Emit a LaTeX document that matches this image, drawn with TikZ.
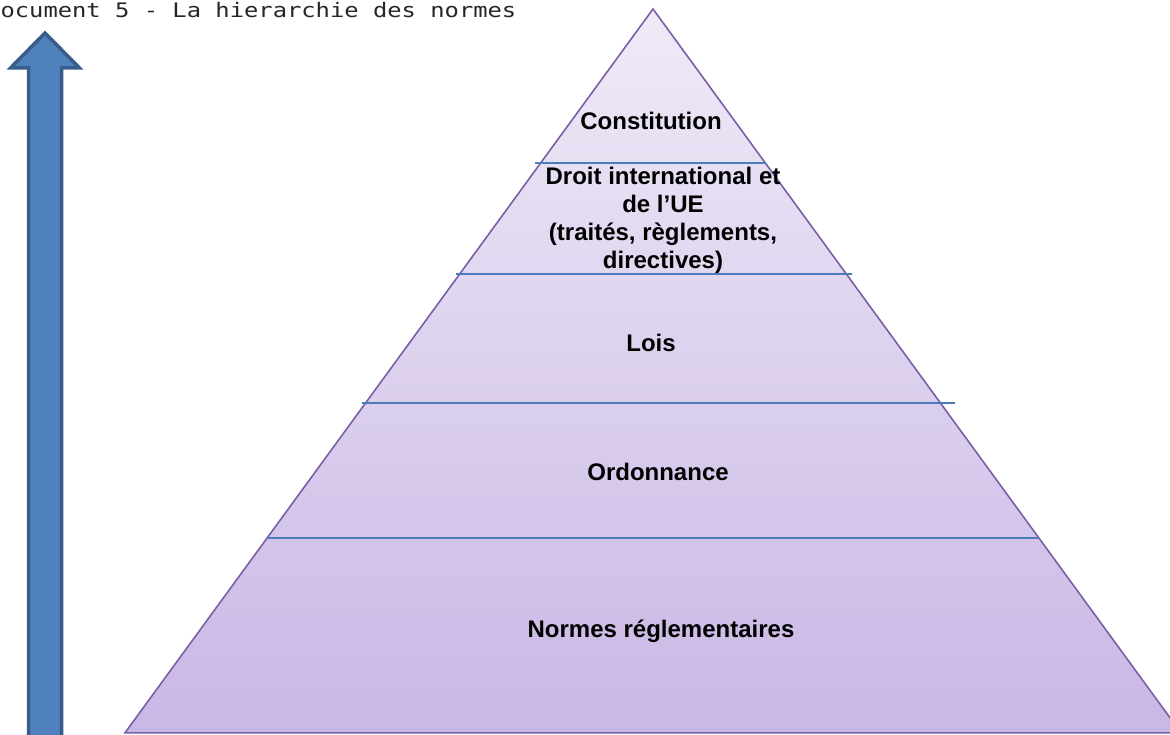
\documentclass[tikz,border=0pt]{standalone}
\usepackage{fontspec}
\usepackage{graphicx}
\setmainfont{Liberation Sans}
\newfontfamily\titlefont{DejaVu Sans Mono}
\definecolor{pyrtop}{HTML}{EFEAF7}
\definecolor{pyrbot}{HTML}{C9B7E5}
\definecolor{pyrline}{HTML}{7B5FA6}
\definecolor{sepline}{HTML}{4A7EBB}
\definecolor{arrfill}{HTML}{4F81BD}
\definecolor{arrline}{HTML}{385D8A}
\tikzset{
  sep/.style={draw=sepline, line width=1.6pt},
  lvl/.style={font=\fontsize{24}{28}\selectfont\bfseries, align=center, text=black, inner sep=0pt},
}
\begin{document}
\begin{tikzpicture}[x=1pt,y=1pt]
\useasboundingbox (0,0) rectangle (1170,734);
\begin{scope}
\clip (0,0) rectangle (1170,734);
% pyramid
\coordinate (apex) at (653,725);
\coordinate (bl) at (125,1.2);
\coordinate (br) at (1181,1.2);
\shade[top color=pyrtop, bottom color=pyrbot] (apex) -- (br) -- (bl) -- cycle;
\draw[pyrline, line width=1.6pt, line join=miter] (apex) -- (br) -- (bl) -- cycle;
% separators
\coordinate (s1a) at (535,571); \coordinate (s1b) at (766,571);
\coordinate (s2a) at (456,460); \coordinate (s2b) at (852,460);
\coordinate (s3a) at (362,331); \coordinate (s3b) at (955,331);
\coordinate (s4a) at (268,196); \coordinate (s4b) at (1038,196);
\draw[sep] (s1a) -- (s1b);
\draw[sep] (s2a) -- (s2b);
\draw[sep] (s3a) -- (s3b);
\draw[sep] (s4a) -- (s4b);
% arrow
\draw[fill=arrfill, draw=arrline, line width=3.5pt, line join=miter]
  (45,701) -- (79.5,666) -- (61.5,666) -- (61.5,-10) -- (28.5,-10) -- (28.5,666) -- (10.5,666) -- cycle;
% title
\node[anchor=base west, inner sep=0pt, text=black!85] (title) at (-14,716.5)
  {\scalebox{1.19}[1]{\titlefont\fontsize{20}{22}\selectfont Document 5 - La hierarchie des normes}};
\end{scope}
% labels
\node[lvl] (const) at (651,613) {Constitution};
\node[lvl] (droit) at (663,514) {Droit international et\\de l’UE\\(traités, règlements,\\directives)};
\node[lvl] (lois) at (651,391) {Lois};
\node[lvl] (ord) at (658,262) {Ordonnance};
\node[lvl] (norm) at (661,103) {Normes réglementaires};
\end{tikzpicture}
\end{document}
